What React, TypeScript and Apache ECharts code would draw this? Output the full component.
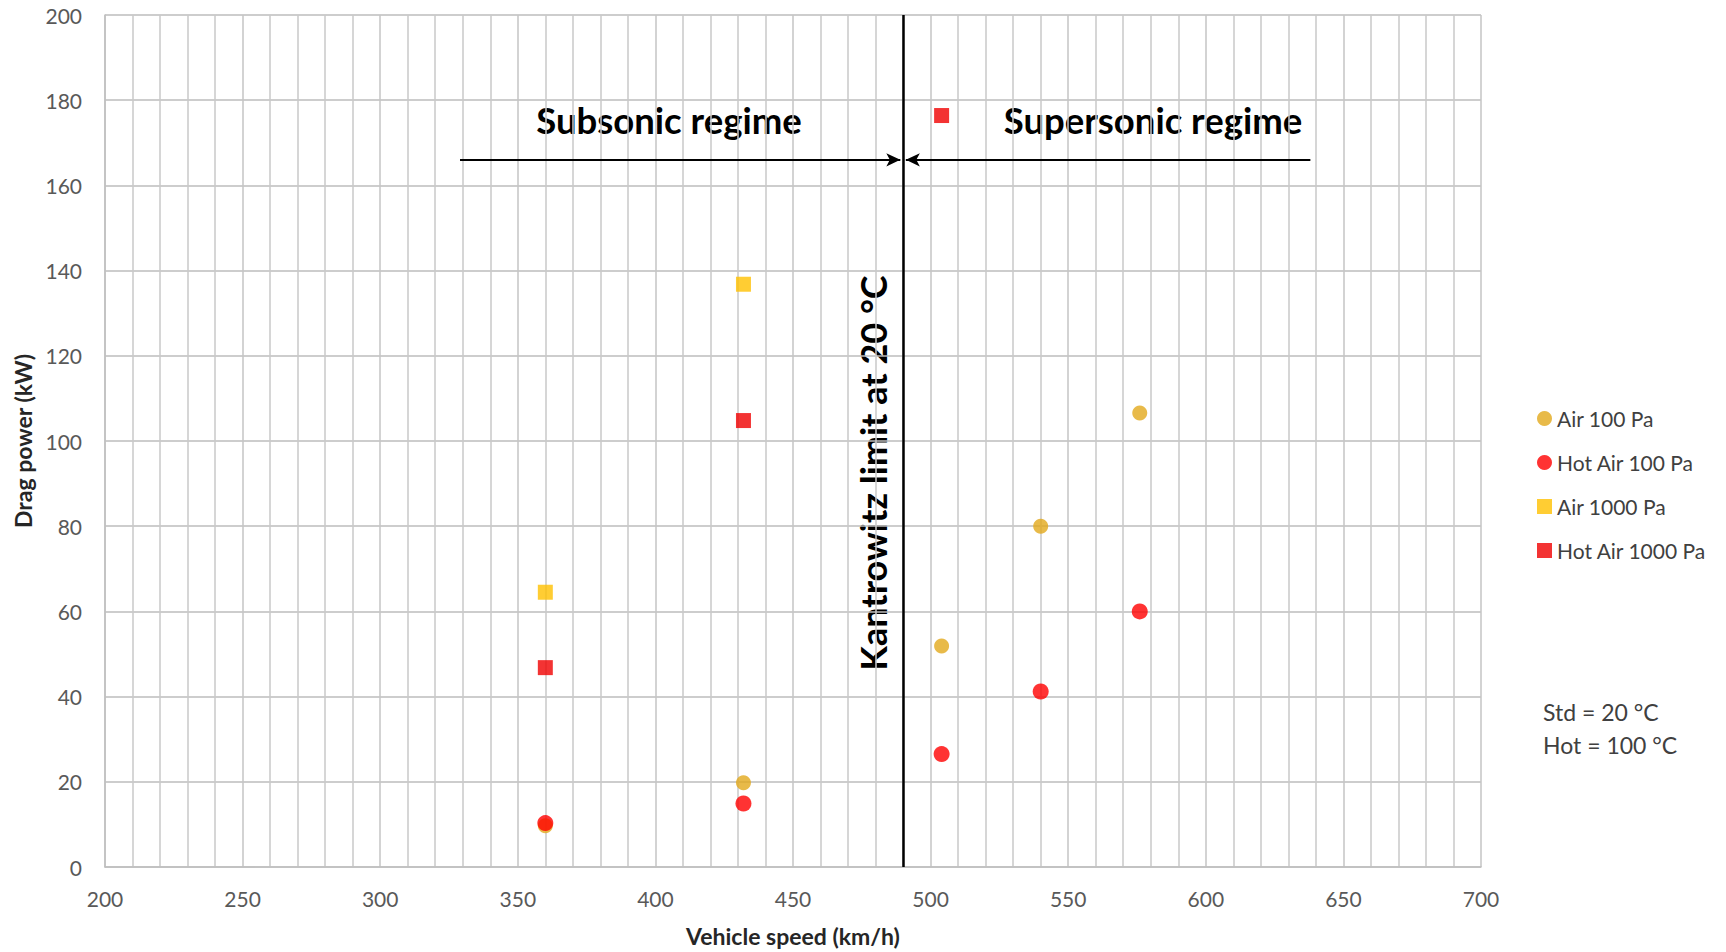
import React, { useEffect, useRef } from "react";
import * as echarts from "echarts";

// ---- Data ----
const speeds = [360, 432, 504, 540, 576];
const air100 = [9.7, 19.8, 51.9, 80, 106.6];
const hotAir100 = [10.3, 14.9, 26.5, 41.2, 60];
const air1000Speeds = [360, 432];
const air1000 = [64.5, 136.8];
const hotAir1000Speeds = [360, 432, 504];
const hotAir1000 = [46.8, 104.8, 176.4];

const seriesNames = ["Air 100 Pa", "Hot Air 100 Pa", "Air 1000 Pa", "Hot Air 1000 Pa"];
const kantrowitzSpeed = 490;
const subsonicArrow = [329, 489];
const supersonicArrow = [638, 491];
const arrowLevel = 166;

const xTicks = { min: 200, max: 700, interval: 50 };
const yTicks = { min: 0, max: 200, interval: 20 };

const FONT = "Lato";

export default function App() {
  const ref = useRef<HTMLDivElement>(null);
  useEffect(() => {
    if (!ref.current) return;
    const chart = echarts.init(ref.current, null, { renderer: "svg" });
    const pairs = (xs: number[], ys: number[]) => xs.map((x, i) => [x, ys[i]]);
    const option: any = {
      animation: false,
      backgroundColor: "#ffffff",
      textStyle: { fontFamily: FONT },
      grid: { left: 105, right: 245, top: 15, bottom: 82.5, containLabel: false },
      xAxis: {
        type: "value",
        min: xTicks.min,
        max: xTicks.max,
        interval: xTicks.interval,
        name: "Vehicle speed (km/h)",
        nameLocation: "middle",
        nameGap: 57,
        nameTextStyle: { fontFamily: FONT, fontWeight: "bold", fontSize: 23, color: "#262626" },
        axisLine: { show: true, lineStyle: { color: "#BFBFBF", width: 1.5 } },
        axisTick: { show: false },
        axisLabel: { color: "#595959", fontSize: 21, fontFamily: FONT, margin: 21 },
        splitLine: { show: true, lineStyle: { color: "#C4C4C4", width: 1.5 } },
        minorTick: { show: false, splitNumber: 5 },
        minorSplitLine: { show: true, lineStyle: { color: "#C8C8C8", width: 1.5 } },
      },
      yAxis: {
        type: "value",
        min: yTicks.min,
        max: yTicks.max,
        interval: yTicks.interval,
        name: "Drag power (kW)",
        nameLocation: "middle",
        nameGap: 70,
        nameTextStyle: { fontFamily: FONT, fontWeight: "bold", fontSize: 23, color: "#262626" },
        axisLine: { show: true, lineStyle: { color: "#BFBFBF", width: 1.5 } },
        axisTick: { show: false },
        axisLabel: { color: "#595959", fontSize: 21, fontFamily: FONT, margin: 23 },
        splitLine: { show: true, lineStyle: { color: "#BDBDBD", width: 1.5 } },
      },
      legend: {
        orient: "vertical",
        left: 1532,
        top: 403,
        itemWidth: 15,
        itemHeight: 15,
        itemGap: 23,
        textStyle: { fontFamily: FONT, fontSize: 21, color: "#404040" },
        data: [
          { name: seriesNames[0], icon: "circle" },
          { name: seriesNames[1], icon: "circle" },
          { name: seriesNames[2], icon: "rect" },
          { name: seriesNames[3], icon: "rect" },
        ],
      },
      series: [
        {
          name: seriesNames[0],
          type: "scatter",
          symbol: "circle",
          symbolSize: 15,
          itemStyle: { color: "#E2A91C" },
          data: pairs(speeds, air100),
        },
        {
          name: seriesNames[1],
          type: "scatter",
          symbol: "circle",
          symbolSize: 16,
          itemStyle: { color: "#FF0000" },
          data: pairs(speeds, hotAir100),
        },
        {
          name: seriesNames[2],
          type: "scatter",
          symbol: "rect",
          symbolSize: 15,
          itemStyle: { color: "#FFC000" },
          data: pairs(air1000Speeds, air1000),
        },
        {
          name: seriesNames[3],
          type: "scatter",
          symbol: "rect",
          symbolSize: 15,
          itemStyle: { color: "#F00000" },
          data: pairs(hotAir1000Speeds, hotAir1000),
        },
        {
          name: "kantrowitz",
          type: "scatter",
          data: [],
          silent: true,
          markLine: {
            silent: true,
            symbol: ["none", "none"],
            label: { show: false },
            lineStyle: { color: "#000000", width: 2.5, type: "solid" },
            data: [{ xAxis: kantrowitzSpeed }],
          },
        },
        {
          name: "arrows",
          type: "scatter",
          data: [],
          silent: true,
          markLine: {
            silent: true,
            symbol: ["none", "arrow"],
            symbolSize: [10, 14],
            label: { show: false },
            lineStyle: { color: "#000000", width: 2, type: "solid" },
            data: [
              [{ coord: [subsonicArrow[0], arrowLevel] }, { coord: [subsonicArrow[1], arrowLevel] }],
              [{ coord: [supersonicArrow[0], arrowLevel] }, { coord: [supersonicArrow[1], arrowLevel] }],
            ],
          },
        },
      ],
      graphic: [
        {
          type: "text",
          x: 669,
          y: 120,
          style: {
            text: "Subsonic regime",
            fontFamily: FONT,
            fontWeight: "bold",
            fontSize: 36.5,
            fill: "#000000",
            align: "center",
            verticalAlign: "middle",
          },
        },
        {
          type: "text",
          x: 1153,
          y: 120,
          style: {
            text: "Supersonic regime",
            fontFamily: FONT,
            fontWeight: "bold",
            fontSize: 36.5,
            fill: "#000000",
            align: "center",
            verticalAlign: "middle",
          },
        },
        {
          type: "text",
          x: 873,
          y: 473,
          rotation: Math.PI / 2,
          style: {
            text: "Kantrowitz limit at 20 °C",
            fontFamily: FONT,
            fontWeight: "bold",
            fontSize: 36,
            fill: "#000000",
            align: "center",
            verticalAlign: "middle",
          },
        },
        {
          type: "text",
          x: 1543,
          y: 712,
          style: {
            text: "Std = 20 °C",
            fontFamily: FONT,
            fontSize: 23,
            fill: "#404040",
            align: "left",
            verticalAlign: "middle",
          },
        },
        {
          type: "text",
          x: 1543,
          y: 745,
          style: {
            text: "Hot = 100 °C",
            fontFamily: FONT,
            fontSize: 23,
            fill: "#404040",
            align: "left",
            verticalAlign: "middle",
          },
        },
      ],
    };
    chart.setOption(option);
    return () => chart.dispose();
  }, []);
  return (
    <div
      ref={ref}
      style={{ position: "absolute", left: 0, top: 0, width: 1726, height: 952, background: "#fff" }}
    />
  );
}
